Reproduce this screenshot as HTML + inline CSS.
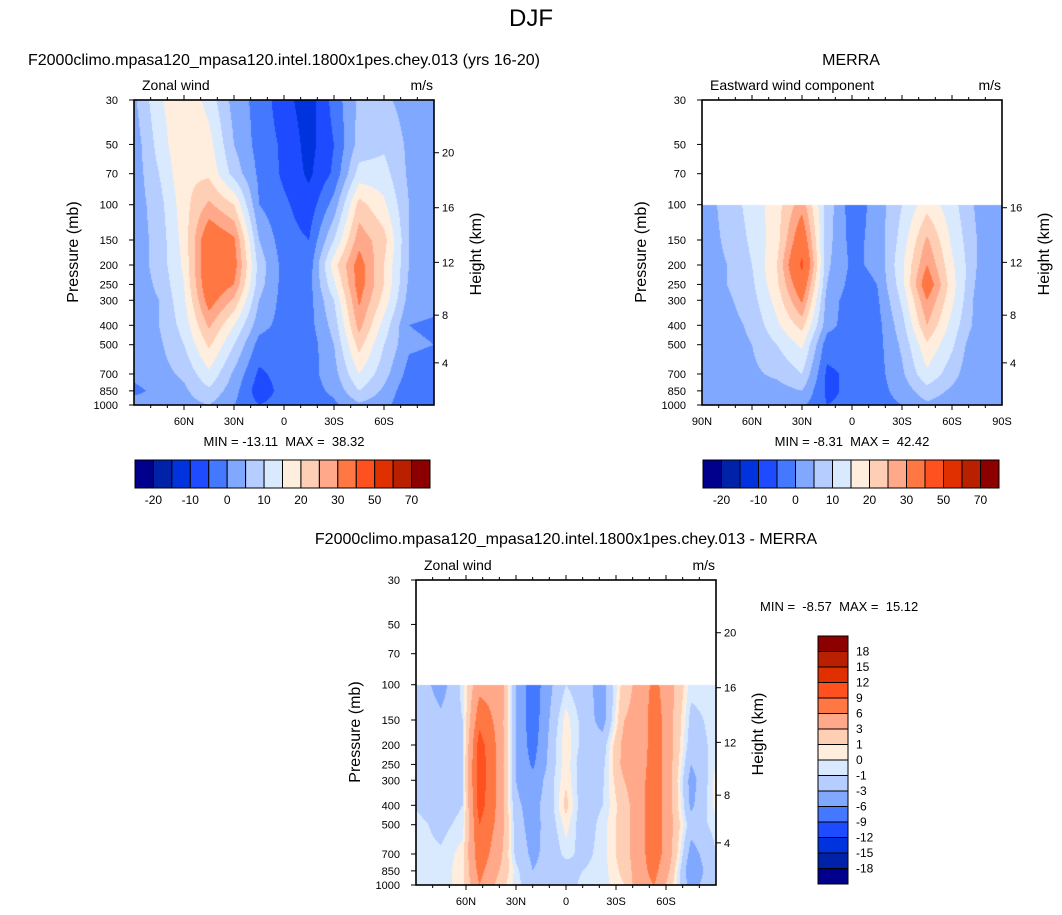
<!DOCTYPE html>
<html><head><meta charset="utf-8">
<style>
html,body{margin:0;padding:0;background:#fff;}
#page{position:relative;width:1062px;height:915px;overflow:hidden;font-family:"Liberation Sans",Arial,sans-serif;}
canvas{position:absolute;}
svg{position:absolute;left:0;top:0;}
text{white-space:pre;}
</style></head>
<body>
<div id="page">
<canvas id="c1" width="300" height="305" style="left:134px;top:100px"></canvas>
<canvas id="c2" width="300" height="305" style="left:702px;top:100px"></canvas>
<canvas id="c3" width="300" height="305" style="left:416px;top:580px"></canvas>
<svg id="ov" width="1062" height="915"></svg>
</div>
<script>
const COLORS=['#00008c','#0022a8','#0033dd','#1e4bff','#4479ff','#80a8ff','#b5cdff','#d9eaff','#ffeedd','#ffcfb5','#ffa98a','#ff7844','#ff5020','#e03000','#b82000','#8c0000'];
const levelsFull=[-20,-15,-10,-5,0,5,10,15,20,25,30,40,50,60,70];
const levelsDiff=[-18,-15,-12,-9,-6,-3,-1,0,1,3,6,9,12,15,18];
const cbLabelsFull=['-20','-10','0','10','20','30','50','70'];
const cbLabelsDiff=['18','15','12','9','6','3','1','0','-1','-3','-6','-9','-12','-15','-18'];

const lats1=[90,75,60,45,30,15,0,-15,-30,-45,-60,-75,-90];
const pres1=[30,50,70,100,150,200,250,300,400,500,700,850,1000];
const u1=[
[4,14,20,13,3,-2,-8,-13,-3,6,6,3,2],
[2,12,20,17,5,-2,-6,-12,-5,7,9,4,3],
[2,10,19,19,8,-1,-6,-11,-4,12,12,4,3],
[2,8,18,26,20,0,-4,-8,2,22,16,5,3],
[2,7,17,36,31,5,-3,-5,10,28,22,5,3],
[2,7,16,37,33,8,-2,-3,18,33,20,5,3],
[2,6,15,36,30,7,-2,-2,14,33,20,4,2],
[2,5,14,33,24,5,-2,-2,10,31,18,3,2],
[2,5,12,26,15,2,-2,-2,7,27,13,0,-1],
[2,4,10,21,10,-2,-3,-3,5,22,10,1,0],
[1,3,6,14,4,-6,-3,-2,3,15,7,-2,-3],
[-1,1,4,9,2,-8,-3,-2,1,10,4,-4,-4],
[2,2,3,5,0,-5,-3,-2,-1,4,2,-5,-5]];

const lats2=[90,75,60,45,30,15,0,-15,-30,-45,-60,-75,-90];
const pres2=[100,150,200,250,300,400,500,700,850,1000];
const u2=[
[2,7,12,18,28,8,-3,2,10,18,12,4,3],
[2,6,11,18,36,7,-2,2,12,26,14,5,3],
[2,5,10,20,42,6,-1,1,14,30,16,5,3],
[2,5,9,19,36,5,-2,0,13,35,17,4,3],
[2,4,8,17,31,3,-3,-1,11,30,16,3,2],
[2,3,6,14,22,2,-3,-2,8,25,13,3,2],
[2,3,5,10,16,-3,-3,-2,6,19,11,0,2],
[2,2,4,6,10,-6,-4,-2,4,14,7,0,2],
[1,2,3,3,5,-6,-4,-2,2,8,4,1,2],
[1,2,2,2,1,-5,-4,-2,0,4,2,0,2]];

const lats3=[90,75,62,52,40,30,20,8,0,-10,-22,-35,-45,-53,-62,-75,-90];
const pres3=[100,150,200,250,300,400,500,700,850,1000];
const u3=[
[-1.5,-4,-0.5,5,5,-3,-8,-3,-1,-2,-4,2,4,7,4,-0.5,-0.5],
[-1.5,-2.5,-1,8,5,-3,-8,-2,0.5,-1.5,-4,3,4,8,4,-1.5,-0.5],
[-1.5,-2,-1,10.5,5,-3,-7.5,-1.5,0.7,-1.5,-2,4,4,8,4,-2,-0.5],
[-1.5,-2,-1,11,5,-3,-6.5,-1.5,0.7,-2,-1.5,4,4.5,8,4,-3,0],
[-1.5,-2,-1,11,5,-3,-5,-1.2,0.8,-2,-1.2,3,5,8,4,-4,0.5],
[-1.2,-2,-1,10.5,5,-2.5,-4,-1.2,1.5,-2,-1,2,5,8,4,-3.5,0.5],
[-0.5,-1.5,-0.5,9,5,-2,-4,-1.5,0.5,-2,-0.5,2,5,8,4,-2,-0.5],
[-0.5,-0.8,0.5,8,4,-1.5,-3.5,-2,-0.5,-1.5,-0.5,2,5,8,4,-4,-1],
[-0.5,-0.5,0.5,7,3,-0.5,-3,-2,-2,-1,-0.5,1.5,5,7,3,-5,-1],
[-0.5,-0.5,0.5,6,2,-0.5,-2,-1.5,-2,-0.5,-0.5,1,5,6,2,-4,-1]];

function hex2rgb(h){return [parseInt(h.substr(1,2),16),parseInt(h.substr(3,2),16),parseInt(h.substr(5,2),16)];}
const RGB=COLORS.map(hex2rgb);

function sample(lats,pres,u,lat,p){
  let i=0;while(i<lats.length-2&&lat<lats[i+1])i++;
  const ta=(lats[i]-lat)/(lats[i]-lats[i+1]);
  let j=0;while(j<pres.length-2&&p>pres[j+1])j++;
  const tb=(Math.log(p)-Math.log(pres[j]))/(Math.log(pres[j+1])-Math.log(pres[j]));
  const a=Math.max(0,Math.min(1,ta)),b=Math.max(0,Math.min(1,tb));
  const v00=u[j][i],v01=u[j][i+1],v10=u[j+1][i],v11=u[j+1][i+1];
  return (v00*(1-a)+v01*a)*(1-b)+(v10*(1-a)+v11*a)*b;
}
function render(id,lats,pres,u,levels){
  const c=document.getElementById(id),ctx=c.getContext('2d');
  const W=c.width,H=c.height,img=ctx.createImageData(W,H);
  const L=Math.log(1000/30);
  for(let py=0;py<H;py++){
    const p=30*Math.exp((py+0.5)/H*L);
    for(let px=0;px<W;px++){
      const k=(py*W+px)*4;
      if(p<pres[0]){img.data[k]=255;img.data[k+1]=255;img.data[k+2]=255;img.data[k+3]=255;continue;}
      const lat=90-(px+0.5)/W*180;
      const v=sample(lats,pres,u,lat,p);
      let ci=0;while(ci<levels.length&&v>=levels[ci])ci++;
      const col=RGB[ci];
      img.data[k]=col[0];img.data[k+1]=col[1];img.data[k+2]=col[2];img.data[k+3]=255;
    }
  }
  ctx.putImageData(img,0,0);
}
render('c1',lats1,pres1,u1,levelsFull);
render('c2',lats2,pres2,u2,levelsFull);
render('c3',lats3,pres3,u3,levelsDiff);

const NS='http://www.w3.org/2000/svg';
const ov=document.getElementById('ov');
function mk(tag,attrs,parent){const e=document.createElementNS(NS,tag);for(const k in attrs)e.setAttribute(k,attrs[k]);(parent||ov).appendChild(e);return e;}
function txt(x,y,s,size,anchor,rot){
  const a={x:x,y:y,'font-size':size,'text-anchor':anchor||'middle',fill:'#000','font-family':'Liberation Sans, Arial, sans-serif'};
  if(rot)a.transform='rotate('+rot+' '+x+' '+y+')';
  const e=mk('text',a);e.textContent=s;return e;
}
const pTicks=[30,50,70,100,150,200,250,300,400,500,700,850,1000];
const hTicks=[20,16,12,8,4];
const hPres=[55,103.5,194,356,616];
const latTicks=[60,30,0,-30,-60];
const latLabels=['60N','30N','0','30S','60S'];

function yOf(top,p){return top+Math.log(p/30)/Math.log(1000/30)*305;}
function panel(left,top,opt){
  const W=300,H=305;
  const g=mk('g',{});
  
  
  const r=mk('rect',{x:left,y:top,width:W,height:H,fill:'none',stroke:'#000','stroke-width':1.6},g);
  
  
  pTicks.forEach(p=>{
    const y=yOf(top,p);
    mk('line',{x1:left-5,x2:left,y1:y,y2:y,stroke:'#000','stroke-width':1},g);
    const t=txt(left-16,y+4,String(p),11,'end');
    
    
  });
  hTicks.forEach((h,i)=>{
    if(opt.noH20&&h===20)return;
    const y=yOf(top,hPres[i]);
    mk('line',{x1:left+W,x2:left+W+5,y1:y,y2:y,stroke:'#000','stroke-width':1},g);
    const t=txt(left+W+8,y+4,String(h),11,'start');
    
    
  });
  for(let lat=80;lat>=-80;lat-=10){
    const x=left+(90-lat)/180*W, major=(lat%30===0);
    const l=major?5:3;
    mk('line',{x1:x,x2:x,y1:top-l,y2:top,stroke:'#000','stroke-width':1},g);
    mk('line',{x1:x,x2:x,y1:top+H,y2:top+H+l,stroke:'#000','stroke-width':1},g);
  }
  const labs=opt.full?[90].concat(latTicks,[-90]):latTicks;
  const names=opt.full?['90N'].concat(latLabels,['90S']):latLabels;
  labs.forEach((lat,i)=>{
    const x=left+(90-lat)/180*W;
    const t=txt(x,top+H+20,names[i],11,'middle');
    
    
  });
  let t=txt(left-56,top+152,'Pressure (mb)',16,'middle',-90);
  
  
  t=txt(left+W+47,top+154,'Height (km)',16,'middle',-90);
  
  
  t=txt(left+8,top-10,opt.left,14,'start');
  
  
  t=txt(left+W-1,top-10,'m/s',14,'end');
  
  
}
panel(134,100,{name:'model',left:'Zonal wind'});
panel(702,100,{name:'merra',left:'Eastward wind component',full:true,noH20:true});
panel(416,580,{name:'difference',left:'Zonal wind'});

let e;
e=txt(531,26,'DJF',24,'middle');


e=txt(284,65,'F2000climo.mpasa120_mpasa120.intel.1800x1pes.chey.013 (yrs 16-20)',16,'middle');


e=txt(851,65,'MERRA',16,'middle');


e=txt(566,544,'F2000climo.mpasa120_mpasa120.intel.1800x1pes.chey.013 - MERRA',16,'middle');


e=txt(284,446,'MIN = -13.11  MAX =  38.32',13,'middle');


e=txt(852,446,'MIN = -8.31  MAX =  42.42',13,'middle');


e=txt(760,611,'MIN =  -8.57  MAX =  15.12',13,'start');



function hbar(x0,y0,w,h,name){
  const bw=w/COLORS.length;
  COLORS.forEach((c,i)=>{
    const r=mk('rect',{x:x0+i*bw,y:y0,width:bw,height:h,fill:c,stroke:'#000','stroke-width':1});
    
    
  });
  cbLabelsFull.forEach((s,k)=>{
    const t=txt(x0+(2*k+1)*bw,y0+h+16,s,12,'middle');
    
    
  });
}
hbar(135,460,295,28,'model-colorbar');
hbar(703,460,296,28,'merra-colorbar');
(function(){
  const x0=818,y0=636,w=30,h=248,bh=h/COLORS.length;
  for(let i=0;i<COLORS.length;i++){
    const r=mk('rect',{x:x0,y:y0+i*bh,width:w,height:bh,fill:COLORS[COLORS.length-1-i],stroke:'#000','stroke-width':1});
    
    
  }
  cbLabelsDiff.forEach((s,k)=>{
    const t=txt(x0+w+8,y0+(k+1)*bh+4,s,12,'start');
    
    
  });
})();
</script>
</body></html>
